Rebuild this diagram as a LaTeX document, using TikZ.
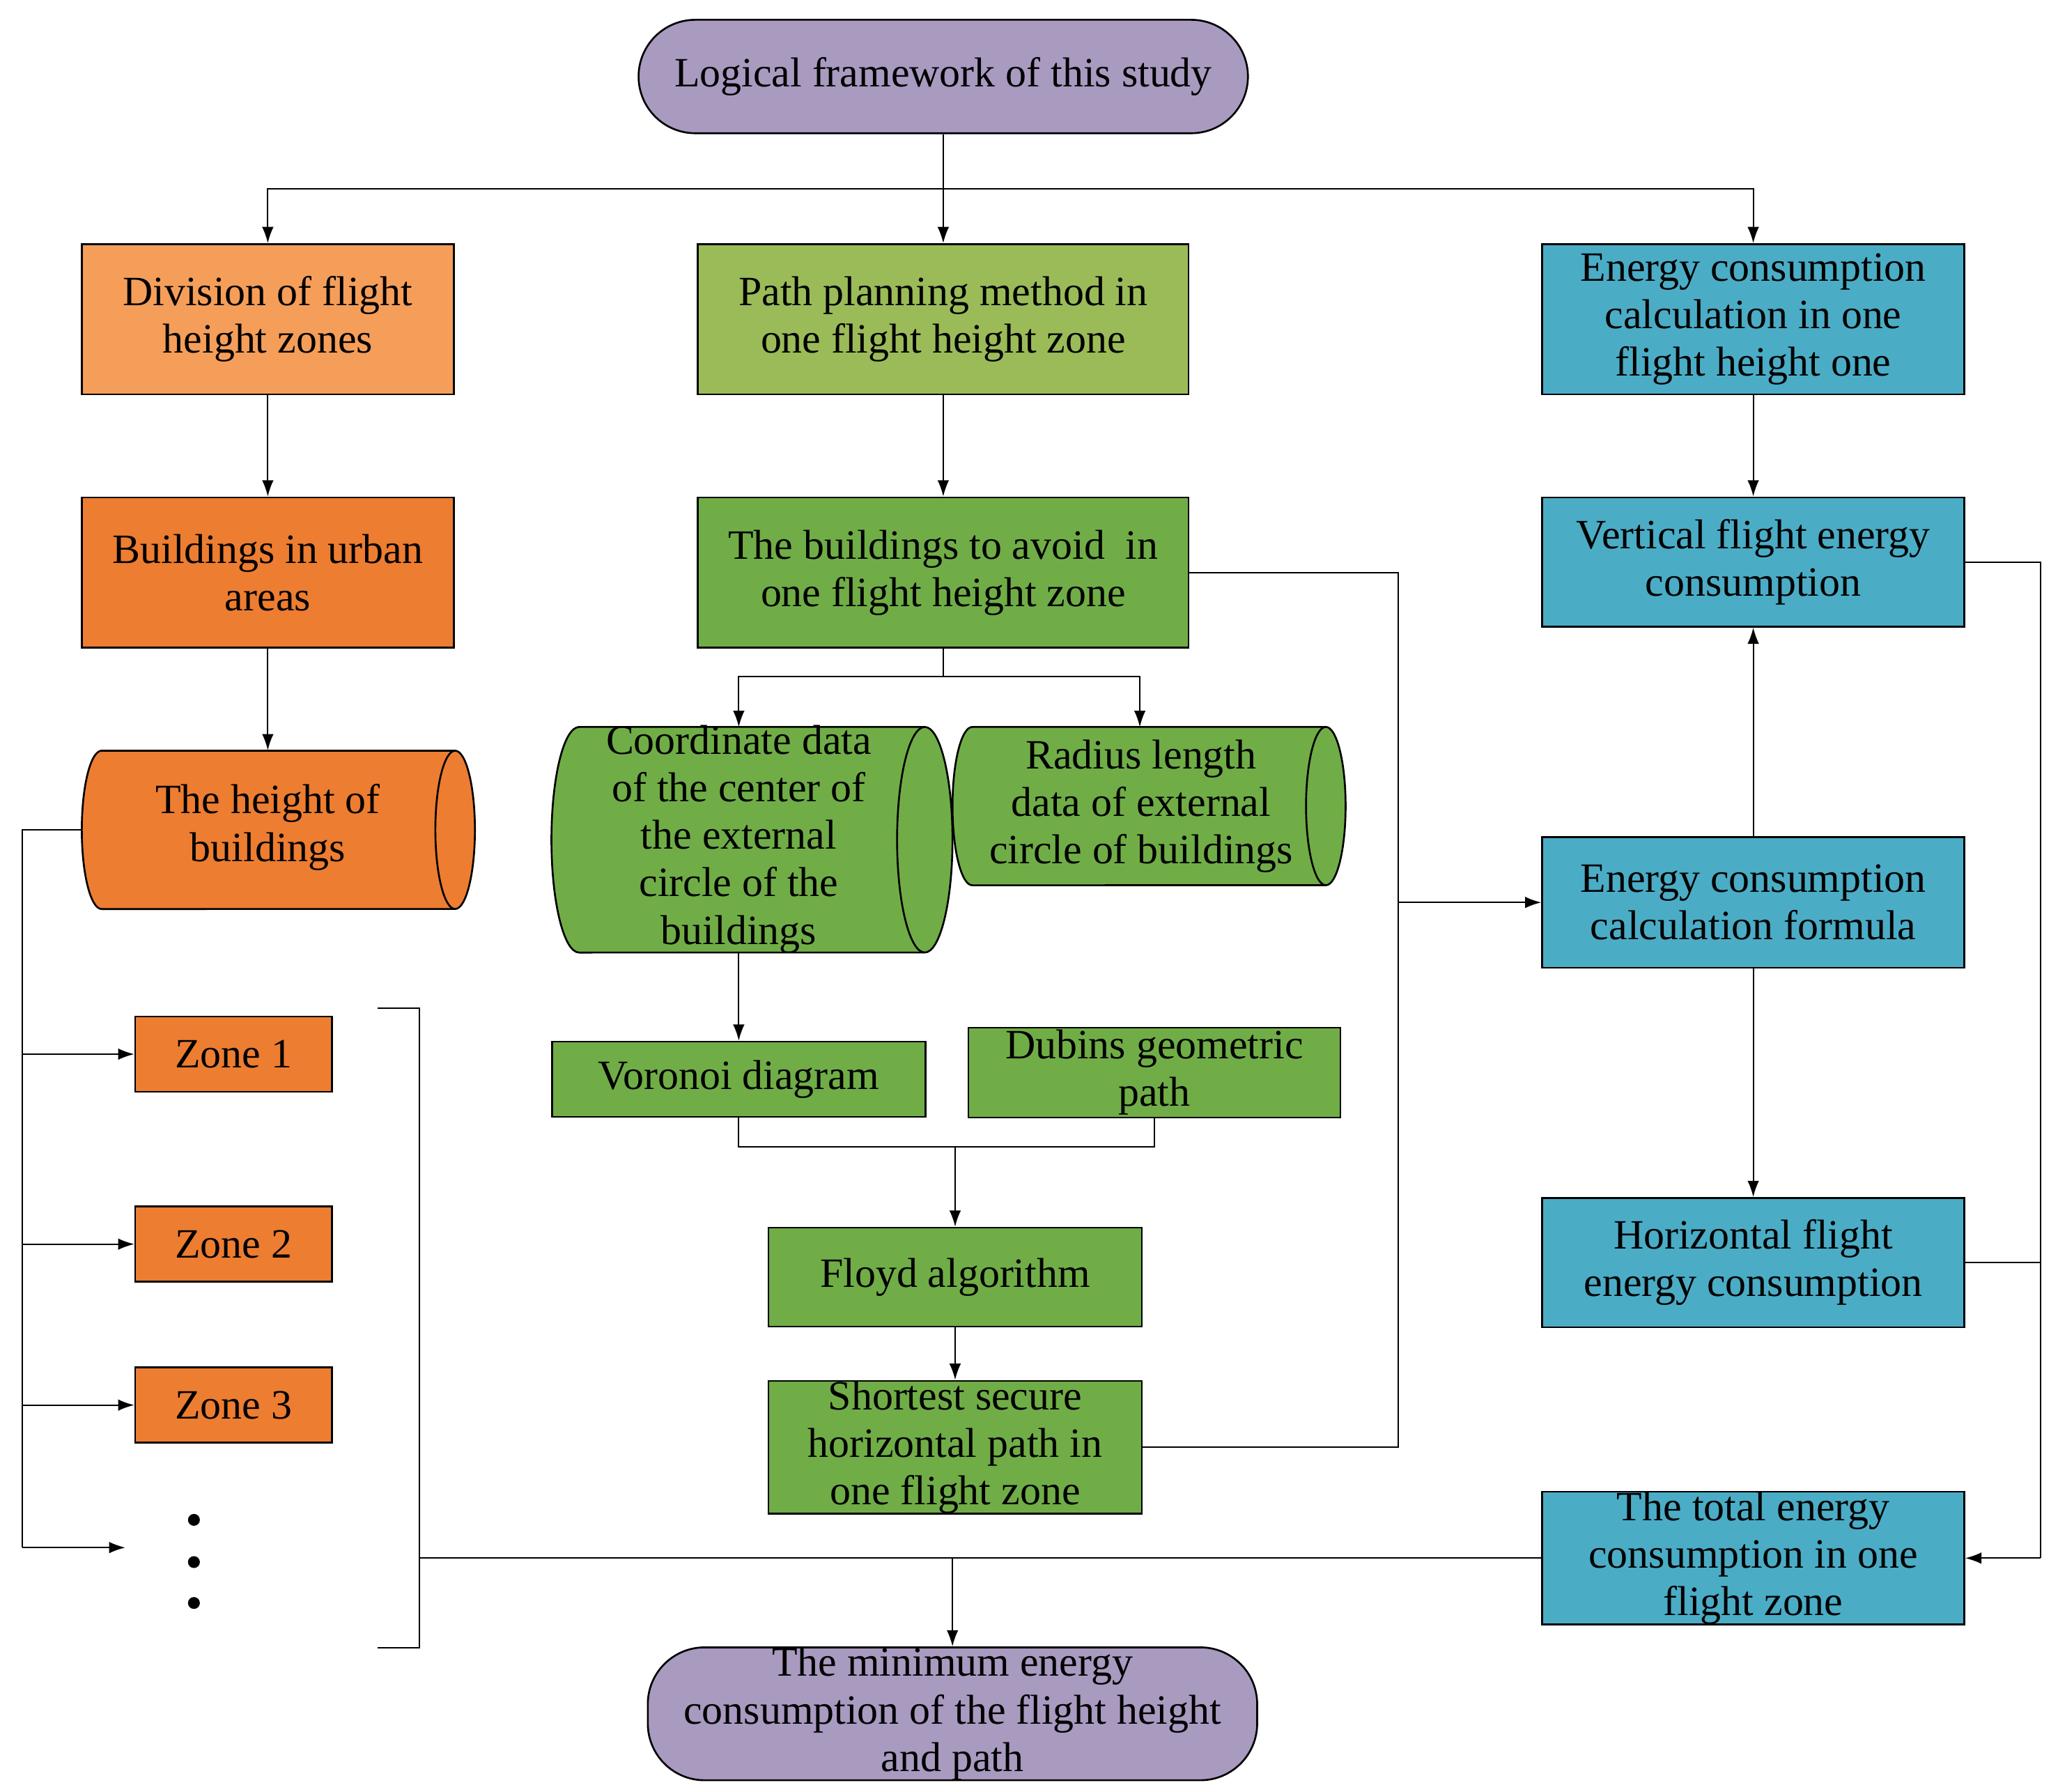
\documentclass[tikz,border=0pt]{standalone}
\usepackage{fontspec}
\setmainfont{Liberation Serif}
\usetikzlibrary{arrows.meta}
\definecolor{purp}{HTML}{A99AC0}
\definecolor{lorange}{HTML}{F59E5A}
\definecolor{dorange}{HTML}{ED7D31}
\definecolor{lgreen}{HTML}{9BBB59}
\definecolor{dgreen}{HTML}{70AD47}
\definecolor{cyanb}{HTML}{4BACC6}
\begin{document}
\begin{tikzpicture}[x=0.02cm,y=-0.02cm,
  every node/.style={font=\fontsize{18}{20.5}\selectfont, align=center, inner sep=0pt},
  box/.style={draw, line width=0.8pt, rectangle},
  term/.style={draw, line width=0.8pt, rectangle, rounded corners=0.86cm, fill=purp},
  cylp/.style={draw, line width=0.8pt},
  ln/.style={line width=0.6pt},
  ar/.style={line width=0.6pt,-{Latex[length=7pt,width=5pt]}}]
\useasboundingbox (0,0) rectangle (1560,1358);
\node[term, minimum width=9.24cm, minimum height=1.72cm] (top) at (715,58) {Logical framework of this study};
\node[box, fill=lorange, minimum width=5.64cm, minimum height=2.28cm] (div) at (203,242) {Division of flight\\height zones};
\node[box, fill=lgreen, minimum width=7.44cm, minimum height=2.28cm] (pp) at (715,242) {Path planning method in\\one flight height zone};
\node[box, fill=cyanb, minimum width=6.4cm, minimum height=2.28cm] (ec) at (1329,242) {Energy consumption\\calculation in one\\flight height one};
\node[box, fill=dorange, minimum width=5.64cm, minimum height=2.28cm] (bu) at (203,434) {Buildings in urban\\areas};
\node[box, fill=dgreen, minimum width=7.44cm, minimum height=2.28cm] (ba) at (715,434) {The buildings to avoid\ \ in\\one flight height zone};
\node[box, fill=cyanb, minimum width=6.4cm, minimum height=1.96cm] (vf) at (1329,426) {Vertical flight energy\\consumption};
% cylinders
\fill[dorange] (77,569) -- (345,569) arc[start angle=90,end angle=-90,x radius=0.3cm,y radius=1.2cm] -- (77,689) arc[start angle=-90,end angle=-270,x radius=0.3cm,y radius=1.2cm] -- cycle;
\draw[cylp] (77,569) -- (345,569) arc[start angle=90,end angle=-90,x radius=0.3cm,y radius=1.2cm] -- (77,689) arc[start angle=-90,end angle=-270,x radius=0.3cm,y radius=1.2cm] -- cycle;
\draw[cylp] (345,569) arc[start angle=90,end angle=270,x radius=0.3cm,y radius=1.2cm];
\node[minimum width=5.96cm, minimum height=2.4cm] (hb) at (211,629) {};
\node at (203,627) {The height of\\buildings};
\draw[cylp, fill=dgreen] (439,551) -- (701,551) arc[start angle=90,end angle=-90,x radius=0.42cm,y radius=1.71cm] -- (439,722) arc[start angle=-90,end angle=-270,x radius=0.42cm,y radius=1.71cm] -- cycle;
\draw[cylp] (701,551) arc[start angle=90,end angle=270,x radius=0.42cm,y radius=1.71cm];
\node[minimum width=6.08cm, minimum height=3.42cm] (cd) at (570,636) {};
\node at (560,636) {Coordinate data\\of the center of\\the external\\circle of the\\buildings};
\draw[cylp, fill=dgreen] (737,551) -- (1005,551) arc[start angle=90,end angle=-90,x radius=0.3cm,y radius=1.2cm] -- (737,671) arc[start angle=-90,end angle=-270,x radius=0.3cm,y radius=1.2cm] -- cycle;
\draw[cylp] (1005,551) arc[start angle=90,end angle=270,x radius=0.3cm,y radius=1.2cm];
\node[minimum width=5.96cm, minimum height=2.4cm] (rl) at (871,611) {};
\node at (865,611) {Radius length\\data of external\\circle of buildings};
\node[box, fill=cyanb, minimum width=6.4cm, minimum height=1.98cm] (ef) at (1329,684) {Energy consumption\\calculation formula};
\node[box, fill=dorange, minimum width=2.98cm, minimum height=1.14cm] (z1) at (177,799) {Zone 1};
\node[box, fill=dorange, minimum width=2.98cm, minimum height=1.14cm] (z2) at (177,943) {Zone 2};
\node[box, fill=dorange, minimum width=2.98cm, minimum height=1.14cm] (z3) at (177,1065) {Zone 3};
\fill (147,1152) circle (0.09cm) (147,1184) circle (0.09cm) (147,1215) circle (0.09cm);
\node[box, fill=dgreen, minimum width=5.66cm, minimum height=1.14cm] (vd) at (560,818) {Voronoi diagram};
\node[box, fill=dgreen, minimum width=5.64cm, minimum height=1.36cm] (db) at (875,813) {Dubins geometric\\path};
\node[box, fill=dgreen, minimum width=5.66cm, minimum height=1.5cm] (fl) at (724,968) {Floyd algorithm};
\node[box, fill=dgreen, minimum width=5.66cm, minimum height=1.96cm] (sh) at (724,1097) {Shortest secure\\horizontal path in\\one flight zone};
\node[box, fill=cyanb, minimum width=6.4cm, minimum height=1.96cm] (hf) at (1329,957) {Horizontal flight\\energy consumption};
\node[box, fill=cyanb, minimum width=6.4cm, minimum height=1.94cm] (tt) at (1329,1181) {The total energy\\consumption in one\\flight zone};
\node[term, minimum width=9.24cm, minimum height=1.94cm] (bt) at (722,1299) {The minimum energy\\consumption of the flight height\\and path};
% connectors
\coordinate (t1) at (715,143);
\draw[ln] (top.south) -- (t1);
\draw[ar] (t1) -| (div.north);
\draw[ar] (t1) -- (pp.north);
\draw[ar] (t1) -| (ec.north);
\draw[ar] (div) -- (bu);
\draw[ar] (bu.south) -- (hb.north -| bu.south);
\draw[ar] (pp) -- (ba);
\coordinate (b1) at (715,513);
\draw[ln] (ba.south) -- (b1);
\draw[ar] (b1) -| (560,551);
\draw[ar] (b1) -| (864,551);
\draw[ar] (560,722) -- (vd.north);
\coordinate (m1) at (724,869);
\draw[ln] (vd.south) |- (m1);
\draw[ln] (db.south) |- (m1);
\draw[ar] (m1) -- (fl.north);
\draw[ar] (fl) -- (sh);
\coordinate (r1) at (1060,684);
\draw[ln] (sh.east) -| (1060,434) -- (ba.east);
\draw[ar] (r1) -- (ef.west);
\draw[ar] (ec) -- (vf);
\draw[ar] (ef) -- (vf);
\draw[ar] (ef) -- (hf);
\draw[ln] (vf.east) -| (1547,1181);
\draw[ln] (hf.east) -- (1547,957);
\draw[ar] (1547,1181) -- (tt.east);
\coordinate (m2) at (722,1181);
\draw[ln] (tt.west) -- (318,1181);
\draw[ar] (m2) -- (bt.north);
\draw[ln] (286,764) -- (318,764) -- (318,1249) -- (286,1249);
\coordinate (l1) at (17,1173);
\draw[ln] (62,629) -- (17,629) -- (l1);
\draw[ar] (17,799) -- (z1.west);
\draw[ar] (17,943) -- (z2.west);
\draw[ar] (17,1065) -- (z3.west);
\draw[ar] (l1) -- (95,1173);
\end{tikzpicture}
\end{document}
